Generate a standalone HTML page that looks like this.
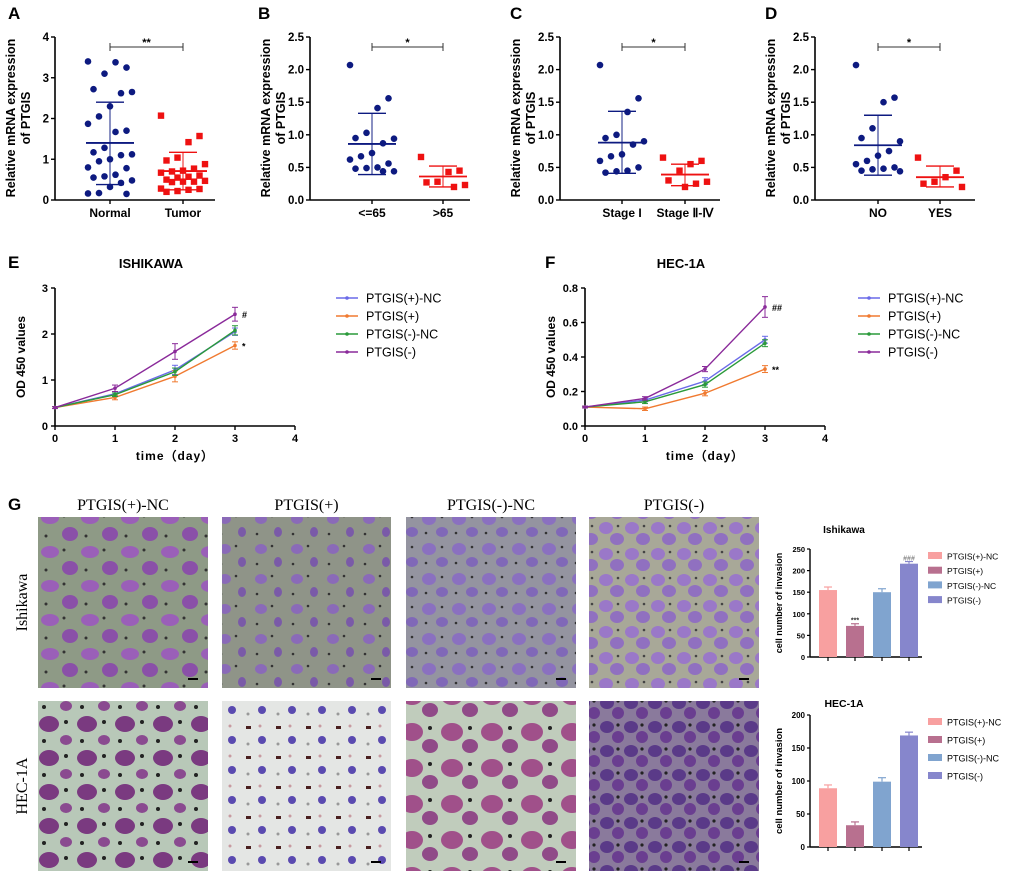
<!DOCTYPE html>
<html><head><meta charset="utf-8"><style>
html,body{margin:0;padding:0;background:#fff;}
svg{display:block;font-family:"Liberation Sans",Arial,sans-serif;}
</style></head><body>
<svg id="fig" width="1020" height="872" viewBox="0 0 1020 872" xmlns="http://www.w3.org/2000/svg">
<defs>
<pattern id="p1" width="40" height="34" patternUnits="userSpaceOnUse"><rect width="40" height="34" fill="#8e9a86"/><ellipse cx="10" cy="8" rx="9" ry="6" fill="#9a5fb8"/><ellipse cx="30" cy="24" rx="8" ry="7" fill="#8a50a8"/><circle cx="24" cy="6" r="1.5" fill="#333"/><circle cx="6" cy="26" r="1.5" fill="#333"/></pattern>
<pattern id="p2" width="36" height="30" patternUnits="userSpaceOnUse"><rect width="36" height="30" fill="#8f9488"/><ellipse cx="9" cy="9" rx="6" ry="5" fill="#8a6ab8"/><ellipse cx="26" cy="22" rx="4" ry="5" fill="#7a5aa8"/><circle cx="20" cy="6" r="1.3" fill="#333"/><circle cx="5" cy="24" r="1.3" fill="#333"/></pattern>
<pattern id="p3" width="30" height="30" patternUnits="userSpaceOnUse"><rect width="30" height="30" fill="#9494a0"/><ellipse cx="9" cy="9" rx="7" ry="6" fill="#8a70c0"/><ellipse cx="22" cy="22" rx="6" ry="5" fill="#8068b8"/><circle cx="22" cy="7" r="1.3" fill="#333"/><circle cx="6" cy="23" r="1.3" fill="#333"/></pattern>
<pattern id="p4" width="26" height="26" patternUnits="userSpaceOnUse"><rect width="26" height="26" fill="#a8a898"/><ellipse cx="8" cy="8" rx="7" ry="6" fill="#9a78c8"/><ellipse cx="19" cy="19" rx="7" ry="6" fill="#9070c0"/><circle cx="20" cy="6" r="1.3" fill="#444"/></pattern>
<pattern id="p5" width="38" height="34" patternUnits="userSpaceOnUse"><rect width="38" height="34" fill="#b8c8b8"/><ellipse cx="11" cy="10" rx="10" ry="8" fill="#7a3a80"/><ellipse cx="28" cy="26" rx="6" ry="5" fill="#8a4a90"/><circle cx="28" cy="8" r="2" fill="#222"/><circle cx="6" cy="27" r="2" fill="#222"/></pattern>
<pattern id="p6" width="30" height="30" patternUnits="userSpaceOnUse"><rect width="30" height="30" fill="#e4e6e4"/><rect x="6" y="6" width="5" height="3" fill="#4a2020"/><circle cx="22" cy="20" r="4" fill="#5a4ab0"/><circle cx="20" cy="6" r="1.5" fill="#c89aa0"/><circle cx="8" cy="24" r="1.5" fill="#999"/></pattern>
<pattern id="p7" width="40" height="36" patternUnits="userSpaceOnUse"><rect width="40" height="36" fill="#c0ccbc"/><ellipse cx="12" cy="12" rx="11" ry="9" fill="#a0508a"/><ellipse cx="30" cy="26" rx="8" ry="7" fill="#904a88"/><circle cx="30" cy="8" r="2" fill="#222"/></pattern>
<pattern id="p8" width="24" height="24" patternUnits="userSpaceOnUse"><rect width="24" height="24" fill="#8a7a9c"/><ellipse cx="7" cy="7" rx="7" ry="6" fill="#5a3a88"/><ellipse cx="18" cy="17" rx="6" ry="6" fill="#6a3e90"/><circle cx="18" cy="5" r="1.6" fill="#222"/></pattern>
</defs>
<g id="root"></g>
</svg>
<script>
// ===== Data =====
const aNormal=[3.4,3.25,3.38,3.1,2.72,2.65,2.62,2.3,2.05,1.87,1.7,1.67,1.28,1.17,1.12,1.1,1.0,0.95,0.8,0.78,0.62,0.58,0.55,0.48,0.42,0.32,0.17,0.16,0.15];
const aTumor=[2.07,1.57,1.42,1.04,0.97,0.88,0.77,0.72,0.7,0.67,0.6,0.57,0.55,0.5,0.47,0.45,0.45,0.44,0.28,0.27,0.25,0.22,0.2];
const aStats=[[1.4,2.4,0.38],[0.71,1.17,0.25]];
const bYoung=[2.07,1.56,1.41,1.03,0.95,0.94,0.87,0.72,0.67,0.62,0.56,0.5,0.49,0.48,0.44,0.44];
const bOld=[0.66,0.45,0.43,0.28,0.27,0.23,0.2];
const bStats=[[0.86,1.33,0.39],[0.36,0.52,0.2]];
const cEarly=[2.07,1.56,1.35,1.0,0.95,0.9,0.85,0.7,0.67,0.6,0.5,0.45,0.44,0.42];
const cLate=[0.65,0.6,0.55,0.45,0.3,0.28,0.25,0.2];
const cStats=[[0.88,1.36,0.41],[0.39,0.55,0.22]];
const dNo=[2.07,1.57,1.5,1.1,0.95,0.9,0.75,0.68,0.6,0.55,0.5,0.48,0.47,0.45,0.44];
const dYes=[0.65,0.45,0.35,0.28,0.25,0.2];
const dStats=[[0.84,1.3,0.38],[0.35,0.52,0.2]];
const days=[0,1,2,3];
const seriesNames=["PTGIS(+)-NC","PTGIS(+)","PTGIS(-)-NC","PTGIS(-)"];
const eVals=[[0.4,0.7,1.22,2.05],[0.4,0.62,1.08,1.75],[0.4,0.68,1.18,2.08],[0.4,0.82,1.62,2.43]];
const eErr=[[0.02,0.05,0.1,0.08],[0.02,0.05,0.12,0.08],[0.02,0.04,0.08,0.1],[0.02,0.07,0.17,0.15]];
const fVals=[[0.11,0.15,0.26,0.5],[0.11,0.1,0.19,0.33],[0.11,0.14,0.24,0.48],[0.11,0.16,0.33,0.69]];
const fErr=[[0.005,0.01,0.02,0.02],[0.005,0.01,0.015,0.02],[0.005,0.01,0.015,0.02],[0.005,0.01,0.015,0.06]];
const ishVals=[155,72,150,216];
const ishErr=[7,5,8,5];
const hecVals=[89,33,99,169];
const hecErr=[5,5,6,5];

const NS="http://www.w3.org/2000/svg";
const root=document.getElementById('root');
function el(tag,attrs,parent,text){const e=document.createElementNS(NS,tag);for(const k in attrs)e.setAttribute(k,attrs[k]);if(text!==undefined)e.textContent=text;(parent||root).appendChild(e);return e;}

[["A",8,19],["B",258,19],["C",510,19],["D",765,19],["E",8,268],["F",545,268],["G",8,510]].forEach(p=>{
  const t=el('text',{x:p[1],y:p[2],'font-size':17,'font-weight':'bold',fill:'#000'},root,p[0]);
  
  
});

function scatterPanel(cfg){
  const g=el('g',{});
  
  
  const y0=200,y1=37;
  const ys=v=>y0-(v/cfg.max)*(y0-y1);
  el('line',{x1:cfg.ax,y1:y1,x2:cfg.ax,y2:y0,stroke:'#000','stroke-width':1.6},g);
  el('line',{x1:cfg.ax,y1:y0,x2:cfg.ax+cfg.w,y2:y0,stroke:'#000','stroke-width':1.6},g);
  cfg.ticks.forEach(t=>{
    el('line',{x1:cfg.ax-4,y1:ys(t),x2:cfg.ax,y2:ys(t),stroke:'#000','stroke-width':1.4},g);
    const tx=el('text',{x:cfg.ax-6,y:ys(t)+4,'font-size':11.5,'font-weight':'bold','text-anchor':'end'},g,cfg.fmt(t));
    
    
  });
  const yt=el('text',{transform:'translate('+(cfg.ax-40)+',118) rotate(-90)','font-size':12.5,'font-weight':'bold','text-anchor':'middle'},g,'Relative mRNA expression');
  
  
  el('text',{transform:'translate('+(cfg.ax-25)+',118) rotate(-90)','font-size':12.5,'font-weight':'bold','text-anchor':'middle'},g,'of  PTGIS');
  const groups=[cfg.g1,cfg.g2],cols=['#0d1a80','#ee1111'];
  groups.forEach((arr,gi)=>{
    const cx=cfg.cx[gi];
    el('line',{x1:cx,y1:y0,x2:cx,y2:y0+4,stroke:'#000','stroke-width':1.4},g);
    const lab=el('text',{x:cx,y:y0+17,'font-size':12,'font-weight':'bold','text-anchor':'middle'},g,cfg.cats[gi]);
    
    
    const st=cfg.stats[gi],c=cols[gi];
    el('line',{x1:cx,y1:ys(st[1]),x2:cx,y2:ys(st[2]),stroke:c,'stroke-width':1.2,opacity:0.8},g);
    el('line',{x1:cx-24,y1:ys(st[0]),x2:cx+24,y2:ys(st[0]),stroke:c,'stroke-width':1.8},g);
    el('line',{x1:cx-14,y1:ys(st[1]),x2:cx+14,y2:ys(st[1]),stroke:c,'stroke-width':1.4},g);
    el('line',{x1:cx-14,y1:ys(st[2]),x2:cx+14,y2:ys(st[2]),stroke:c,'stroke-width':1.4},g);
    arr.forEach((v,i)=>{
      const off=(((i*7)%9)-4)*5.5;
      let m;
      if(gi===0) m=el('circle',{cx:cx+off,cy:ys(v),r:3.3,fill:c},g);
      else m=el('rect',{x:cx+off-3.2,y:ys(v)-3.2,width:6.4,height:6.4,fill:c},g);
      
      
    });
  });
  const by=47;
  el('line',{x1:cfg.cx[0],y1:by,x2:cfg.cx[1],y2:by,stroke:'#333','stroke-width':1},g);
  el('line',{x1:cfg.cx[0],y1:by-4,x2:cfg.cx[0],y2:by+4,stroke:'#333','stroke-width':1},g);
  el('line',{x1:cfg.cx[1],y1:by-4,x2:cfg.cx[1],y2:by+4,stroke:'#333','stroke-width':1},g);
  const sig=el('text',{x:(cfg.cx[0]+cfg.cx[1])/2,y:by-1,'font-size':11,'font-weight':'bold','text-anchor':'middle'},g,cfg.sig);
  
  
}
const f1=t=>String(t),f2=t=>t.toFixed(1);
scatterPanel({name:'panel-a-normal-vs-tumor',ax:55,w:160,max:4,ticks:[0,1,2,3,4],fmt:f1,cx:[110,183],g1:aNormal,g2:aTumor,stats:aStats,cats:['Normal','Tumor'],sig:'**'});
scatterPanel({name:'panel-b-age',ax:310,w:160,max:2.5,ticks:[0,0.5,1,1.5,2,2.5],fmt:f2,cx:[372,443],g1:bYoung,g2:bOld,stats:bStats,cats:['<=65','>65'],sig:'*'});
scatterPanel({name:'panel-c-stage',ax:560,w:160,max:2.5,ticks:[0,0.5,1,1.5,2,2.5],fmt:f2,cx:[622,685],g1:cEarly,g2:cLate,stats:cStats,cats:['Stage I','Stage \u2161-\u2163'],sig:'*'});
scatterPanel({name:'panel-d-yes-no',ax:815,w:160,max:2.5,ticks:[0,0.5,1,1.5,2,2.5],fmt:f2,cx:[878,940],g1:dNo,g2:dYes,stats:dStats,cats:['NO','YES'],sig:'*'});

const lineCols=['#6a6ae8','#f07a30','#2a9a3a','#8a2a9a'];
function linePanel(cfg){
  const g=el('g',{});
  
  
  const y0=426,y1=288,x0=cfg.ax,x1=cfg.ax+240;
  const xs=d=>x0+d/4*(x1-x0), ys=v=>y0-v/cfg.max*(y0-y1);
  el('line',{x1:x0,y1:y1,x2:x0,y2:y0,stroke:'#000','stroke-width':1.6},g);
  el('line',{x1:x0,y1:y0,x2:x1,y2:y0,stroke:'#000','stroke-width':1.6},g);
  cfg.ticks.forEach(t=>{
    el('line',{x1:x0-4,y1:ys(t),x2:x0,y2:ys(t),stroke:'#000','stroke-width':1.4},g);
    el('text',{x:x0-7,y:ys(t)+4,'font-size':11,'font-weight':'bold','text-anchor':'end'},g,cfg.fmt(t));
  });
  [0,1,2,3,4].forEach(d=>{
    el('line',{x1:xs(d),y1:y0,x2:xs(d),y2:y0+4,stroke:'#000','stroke-width':1.4},g);
    el('text',{x:xs(d),y:y0+16,'font-size':11,'font-weight':'bold','text-anchor':'middle'},g,String(d));
  });
  const xt=el('text',{x:xs(2),y:y0+34,'font-size':12,'font-weight':'bold','text-anchor':'middle','letter-spacing':'1'},g,'time\uFF08day\uFF09');
  
  
  const yt=el('text',{transform:'translate('+(x0-30)+','+((y0+y1)/2)+') rotate(-90)','font-size':12,'font-weight':'bold','text-anchor':'middle'},g,'OD 450 values');
  
  
  const tt=el('text',{x:xs(1.6),y:268,'font-size':13,'font-weight':'bold','text-anchor':'middle'},g,cfg.title);
  
  
  cfg.vals.forEach((ser,si)=>{
    const pl=el('polyline',{points:ser.map((v,i)=>xs(days[i])+','+ys(v)).join(' '),fill:'none',stroke:lineCols[si],'stroke-width':1.4},g);
    
    
    ser.forEach((v,i)=>{
      const e=cfg.err[si][i],x=xs(days[i]);
      el('line',{x1:x,y1:ys(v+e),x2:x,y2:ys(v-e),stroke:lineCols[si],'stroke-width':1},g);
      el('line',{x1:x-3,y1:ys(v+e),x2:x+3,y2:ys(v+e),stroke:lineCols[si],'stroke-width':1},g);
      el('line',{x1:x-3,y1:ys(v-e),x2:x+3,y2:ys(v-e),stroke:lineCols[si],'stroke-width':1},g);
      const pt=el('circle',{cx:x,cy:ys(v),r:1.8,fill:lineCols[si]},g);
      
      
    });
  });
  cfg.sigs.forEach(s=>{
    el('text',{x:xs(3)+7,y:ys(cfg.vals[s[0]][3])+4,'font-size':9,'font-weight':'bold'},g,s[1]);
  });
  seriesNames.forEach((n,si)=>{
    const ly=298+si*18,lx=cfg.lx;
    const lg=el('g',{},g);
    
    
    el('line',{x1:lx,y1:ly,x2:lx+22,y2:ly,stroke:lineCols[si],'stroke-width':1.4},lg);
    el('circle',{cx:lx+11,cy:ly,r:1.8,fill:lineCols[si]},lg);
    el('text',{x:lx+30,y:ly+4.5,'font-size':12.5},lg,n);
  });
}
linePanel({name:'panel-e-ishikawa-growth',ax:55,max:3,ticks:[0,1,2,3],fmt:f1,vals:eVals,err:eErr,title:'ISHIKAWA',lx:336,sigs:[[3,'#'],[1,'*']]});
linePanel({name:'panel-f-hec1a-growth',ax:585,max:0.8,ticks:[0,0.2,0.4,0.6,0.8],fmt:f2,vals:fVals,err:fErr,title:'HEC-1A',lx:858,sigs:[[3,'##'],[1,'**']]});

const imgX=[38,222,406,589],imgW=[170,169,170,170];
const rowY=[517,701],rowH=[171,170];
const colTitles=["PTGIS(+)-NC","PTGIS(+)","PTGIS(-)-NC","PTGIS(-)"];
colTitles.forEach((t,i)=>{
  const tx=el('text',{x:imgX[i]+imgW[i]/2,y:510,'font-size':16,'font-family':'"Liberation Serif",serif','text-anchor':'middle'},root,t);
  
  
});
["Ishikawa","HEC-1A"].forEach((t,r)=>{
  const tx=el('text',{transform:'translate(27,'+(rowY[r]+rowH[r]/2)+') rotate(-90)','font-size':16,'font-family':'"Liberation Serif",serif','text-anchor':'middle'},root,t);
  
  
});
for(let r=0;r<2;r++)for(let c=0;c<4;c++){
  const im=el('rect',{x:imgX[c],y:rowY[r],width:imgW[c],height:rowH[r],fill:'url(#p'+(r*4+c+1)+')'});
  
  
  el('rect',{x:imgX[c]+imgW[c]-20,y:rowY[r]+rowH[r]-10,width:10,height:2,fill:'#000'});
}

const barCols=['#f8a0a0','#b8708f','#80a4cf','#8686cc'];
function barPanel(cfg){
  const g=el('g',{});
  
  
  const ax=810,y0=cfg.y0,y1=cfg.y1;
  const ys=v=>y0-v/cfg.max*(y0-y1);
  const bx=[828,855,882,909];
  el('line',{x1:ax,y1:y1,x2:ax,y2:y0,stroke:'#000','stroke-width':1.4},g);
  el('line',{x1:ax,y1:y0,x2:ax+112,y2:y0,stroke:'#000','stroke-width':1.4},g);
  cfg.ticks.forEach(t=>{
    el('line',{x1:ax-3,y1:ys(t),x2:ax,y2:ys(t),stroke:'#000','stroke-width':1.2},g);
    el('text',{x:ax-5,y:ys(t)+3,'font-size':cfg.fs,'font-weight':'bold','text-anchor':'end'},g,String(t));
  });
  const ytx=ax-28;
  const yt=el('text',{transform:'translate('+ytx+','+((y0+y1)/2)+') rotate(-90)','font-size':cfg.fs+1.5,'font-weight':'bold','text-anchor':'middle'},g,'cell number of invasion');
  
  
  const tt=el('text',{x:844,y:cfg.ty,'font-size':cfg.fs+2.5,'font-weight':'bold','text-anchor':'middle'},g,cfg.title);
  
  
  cfg.vals.forEach((v,i)=>{
    const e=cfg.err[i];
    el('line',{x1:bx[i],y1:ys(v+e),x2:bx[i],y2:ys(v),stroke:barCols[i],'stroke-width':1.2},g);
    el('line',{x1:bx[i]-4,y1:ys(v+e),x2:bx[i]+4,y2:ys(v+e),stroke:barCols[i],'stroke-width':1.2},g);
    const b=el('rect',{x:bx[i]-9,y:ys(v),width:18,height:y0-ys(v),fill:barCols[i]},g);
    
    
    el('line',{x1:bx[i],y1:y0,x2:bx[i],y2:y0+4,stroke:'#000','stroke-width':1.2},g);
  });
  cfg.sigs.forEach(s=>{
    el('text',{x:bx[s[0]],y:ys(cfg.vals[s[0]]+cfg.err[s[0]])-1,'font-size':7,'font-weight':'bold','text-anchor':'middle',fill:s[2]},g,s[1]);
  });
  seriesNames.forEach((n,i)=>{
    const ly=cfg.ly+i*cfg.lstep;
    const lg=el('g',{},g);
    
    
    el('rect',{x:928,y:ly-4,width:14,height:7,fill:barCols[i]},lg);
    el('text',{x:947,y:ly+3.5,'font-size':cfg.fs+1},lg,n);
  });
}
barPanel({name:'panel-g-ishikawa-invasion',y0:657,y1:549,max:250,ticks:[0,50,100,150,200,250],vals:ishVals,err:ishErr,title:'Ishikawa',ty:533,ly:556,lstep:14.7,fs:7.5,sigs:[[1,'***','#333'],[3,'###','#888']]});
barPanel({name:'panel-g-hec1a-invasion',y0:847,y1:715,max:200,ticks:[0,50,100,150,200],vals:hecVals,err:hecErr,title:'HEC-1A',ty:707,ly:722,lstep:18,fs:8,sigs:[]});
</script>
</body></html>
